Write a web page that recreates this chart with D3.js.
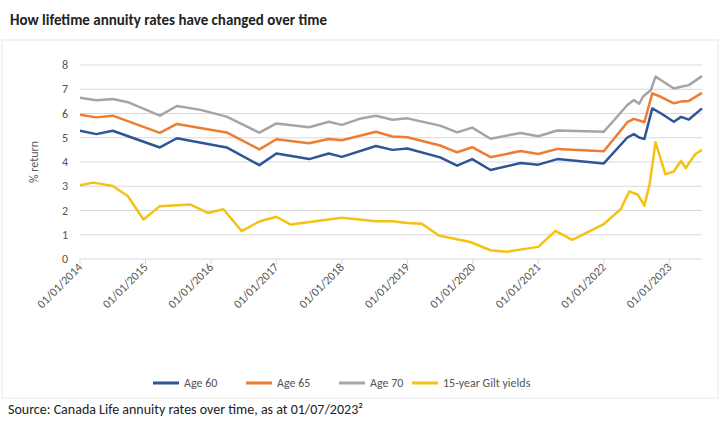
<!DOCTYPE html><html><head><meta charset="utf-8"><script src="https://cdn.jsdelivr.net/npm/d3@7"></script>
<style>body{margin:0;background:#fff;font-family:Calibri,Carlito,"Liberation Sans",sans-serif}</style></head><body><svg id="c" width="720" height="431"></svg>
<script>
const age70=[[2014.0,6.65],[2014.25,6.55],[2014.5,6.6],[2014.75,6.45],[2015.22,5.91],[2015.48,6.31],[2015.84,6.15],[2016.24,5.87],[2016.74,5.21],[2017.0,5.59],[2017.5,5.43],[2017.8,5.66],[2018.0,5.53],[2018.27,5.78],[2018.52,5.91],[2018.77,5.74],[2019.0,5.8],[2019.5,5.5],[2019.76,5.22],[2019.99,5.42],[2020.27,4.96],[2020.73,5.2],[2021.0,5.06],[2021.29,5.3],[2022.0,5.25],[2022.15,5.7],[2022.36,6.35],[2022.46,6.56],[2022.54,6.4],[2022.6,6.7],[2022.72,6.97],[2022.79,7.52],[2022.87,7.38],[2023.07,7.03],[2023.18,7.1],[2023.3,7.17],[2023.5,7.54]];
const age65=[[2014.0,5.95],[2014.25,5.84],[2014.5,5.91],[2015.22,5.2],[2015.48,5.57],[2016.24,5.22],[2016.74,4.52],[2017.0,4.94],[2017.5,4.77],[2017.8,4.95],[2018.0,4.9],[2018.52,5.25],[2018.77,5.05],[2019.0,5.02],[2019.5,4.68],[2019.76,4.4],[2019.99,4.61],[2020.27,4.2],[2020.73,4.45],[2021.0,4.33],[2021.29,4.54],[2022.0,4.44],[2022.36,5.64],[2022.46,5.78],[2022.54,5.71],[2022.62,5.64],[2022.74,6.83],[2022.87,6.69],[2023.07,6.42],[2023.18,6.49],[2023.3,6.52],[2023.5,6.85]];
const age60=[[2014.0,5.29],[2014.25,5.15],[2014.5,5.29],[2015.22,4.6],[2015.48,4.98],[2016.24,4.6],[2016.74,3.87],[2017.0,4.35],[2017.5,4.12],[2017.8,4.35],[2018.0,4.21],[2018.52,4.66],[2018.77,4.5],[2019.0,4.56],[2019.5,4.19],[2019.76,3.85],[2019.99,4.12],[2020.27,3.67],[2020.73,3.96],[2021.0,3.89],[2021.29,4.12],[2022.0,3.94],[2022.36,5.01],[2022.46,5.15],[2022.54,5.01],[2022.62,4.95],[2022.74,6.21],[2022.87,6.01],[2023.07,5.66],[2023.18,5.86],[2023.3,5.75],[2023.5,6.21]];
const gilt=[[2014.0,3.04],[2014.2,3.15],[2014.5,3.01],[2014.73,2.6],[2014.97,1.63],[2015.22,2.18],[2015.68,2.25],[2015.95,1.9],[2016.19,2.05],[2016.47,1.15],[2016.75,1.56],[2017.0,1.74],[2017.22,1.42],[2017.8,1.63],[2018.0,1.7],[2018.52,1.56],[2018.77,1.56],[2019.0,1.48],[2019.22,1.45],[2019.48,0.97],[2019.96,0.7],[2020.27,0.36],[2020.52,0.3],[2021.0,0.5],[2021.26,1.16],[2021.52,0.79],[2022.0,1.44],[2022.26,2.06],[2022.39,2.79],[2022.52,2.65],[2022.62,2.2],[2022.7,3.09],[2022.79,4.81],[2022.94,3.5],[2023.07,3.61],[2023.18,4.05],[2023.25,3.75],[2023.4,4.33],[2023.5,4.5]];
const series=[{name:"Age 60",data:age60,color:"#2f5597"},{name:"Age 65",data:age65,color:"#ed7d31"},{name:"Age 70",data:age70,color:"#a5a5a5"},{name:"15-year Gilt yields",data:gilt,color:"#f2c314"}];
const yTicks=[0,1,2,3,4,5,6,7,8];
const xTicks=["01/01/2014","01/01/2015","01/01/2016","01/01/2017","01/01/2018","01/01/2019","01/01/2020","01/01/2021","01/01/2022","01/01/2023"];
const svg=d3.select("#c");
svg.append("rect").attr("x",2).attr("y",40).attr("width",716).attr("height",358).attr("fill","none").attr("stroke","#e6e6e6");
svg.append("text").attr("x",10).attr("y",25).attr("font-size",15).attr("font-weight","bold").attr("fill","#222").text("How lifetime annuity rates have changed over time");
const x=d3.scaleLinear().domain([2014,2023.5]).range([80,702]);
const y=d3.scaleLinear().domain([0,8]).range([259,65]);
const g=svg.append("g");
yTicks.forEach(t=>{g.append("line").attr("x1",80).attr("x2",702).attr("y1",y(t)).attr("y2",y(t)).attr("stroke","#d9d9d9");
g.append("text").attr("x",68).attr("y",y(t)+4).attr("text-anchor","end").attr("font-size",12).attr("fill","#555").text(t);});
xTicks.forEach((t,i)=>{const xx=x(2014+i);
g.append("line").attr("x1",xx).attr("x2",xx).attr("y1",259).attr("y2",264).attr("stroke","#d9d9d9");
g.append("text").attr("transform",`translate(${xx+3},${268}) rotate(-45)`).attr("text-anchor","end").attr("font-size",12).attr("fill","#555").text(t);});
svg.append("text").attr("transform","translate(38,162) rotate(-90)").attr("text-anchor","middle").attr("font-size",12).attr("fill","#555").text("% return");
const line=d3.line().x(d=>x(d[0])).y(d=>y(d[1]));
series.forEach(s=>svg.append("path").attr("d",line(s.data)).attr("fill","none").attr("stroke",s.color).attr("stroke-width",2.5).attr("stroke-linejoin","round"));
const lx=[153,246,339,412];
series.forEach((s,i)=>{svg.append("line").attr("x1",lx[i]).attr("x2",lx[i]+26).attr("y1",383).attr("y2",383).attr("stroke",s.color).attr("stroke-width",3);
svg.append("text").attr("x",lx[i]+31).attr("y",387).attr("font-size",12).attr("fill","#555").text(s.name);});
svg.append("text").attr("x",8).attr("y",414).attr("font-size",14).attr("fill","#222").text("Source: Canada Life annuity rates over time, as at 01/07/2023²");
</script></body></html>
